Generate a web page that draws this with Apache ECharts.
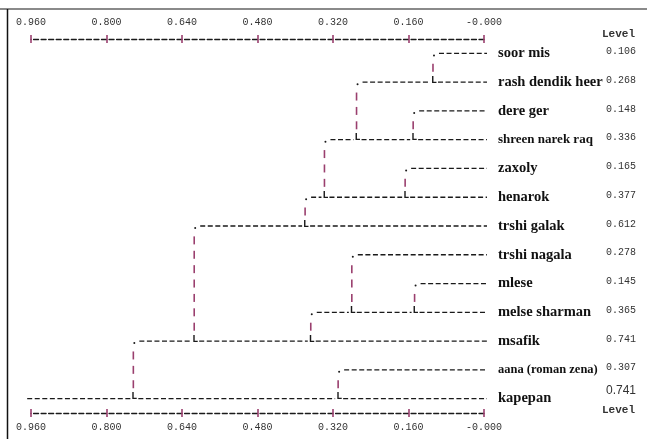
<!DOCTYPE html>
<html>
<head>
<meta charset="utf-8">
<script src="https://cdn.jsdelivr.net/npm/echarts@6.0.0/dist/echarts.min.js"></script>
<style>
  html, body { margin: 0; padding: 0; background: #fff; }
  #chart { width: 647px; height: 439px; }
</style>
</head>
<body>
<div id="chart"></div>
<script>
// rows of the dendrogram, top to bottom
const names = ['soor mis', 'rash dendik heer', 'dere ger', 'shreen narek raq', 'zaxoly', 'henarok',
  'trshi galak', 'trshi nagala', 'mlese', 'melse sharman', 'msafik', 'aana (roman zena)', 'kapepan'];
// "Level" column: row i joins row i+1 at levels[i]
const levels = [0.106, 0.268, 0.148, 0.336, 0.165, 0.377, 0.612, 0.278, 0.145, 0.365, 0.741, 0.307, 0.741];
const ticks = [0.96, 0.8, 0.64, 0.48, 0.32, 0.16, 0];
const rootTail = 0.97;

const INK = '#1a1a1a';
const BAR = '#9a3f6e';
const MONO = '"Liberation Mono", "DejaVu Sans Mono", monospace';
const smallLabels = { 'shreen narek raq': 13, 'aana (roman zena)': 12.5 };

// rebuild the tree from the adjacent join levels
const nodes = [];
function build(a, b) {
  if (a === b) return 0;
  let k = a;
  for (let i = a; i < b; i++) if (levels[i] > levels[k]) k = i;
  const upH = build(a, k);
  const lowH = build(k + 1, b);
  nodes.push([levels[k], k, b, upH, lowH]);
  return levels[k];
}
const rootH = build(0, names.length - 1);

function dash(x1, x2, y) {
  return {
    type: 'line', shape: { x1: x1, y1: y, x2: x2, y2: y },
    style: { stroke: INK, lineWidth: 1.3, lineDash: [5, 2.55] }
  };
}

function renderNode(params, api) {
  const h = api.value(0), up = api.value(1), low = api.value(2);
  const upH = api.value(3), lowH = api.value(4);
  const pUp = api.coord([h, up]);
  const pLow = api.coord([h, low]);
  const x = pUp[0];
  const upEnd = api.coord([upH, up])[0] + (upH ? -4 : 3);
  const lowEnd = api.coord([lowH, low])[0] + (lowH ? -4 : 3);
  const kids = [];
  kids.push({ type: 'circle', shape: { cx: x, cy: pUp[1] + 2, r: 1 }, style: { fill: INK } });
  kids.push(dash(x + 5, upEnd, pUp[1]));
  for (let r = up + 0.5; r < low; r += 0.5) {
    const y = api.coord([h, r])[1];
    kids.push({ type: 'line', shape: { x1: x - 1, y1: y - 4, x2: x - 1, y2: y + 4 },
      style: { stroke: BAR, lineWidth: 1.6 } });
  }
  kids.push({ type: 'text', x: x, y: pLow[1] + 3,
    style: { text: 'L', font: 'bold 10px ' + MONO, fill: INK, align: 'center', verticalAlign: 'bottom' } });
  kids.push(dash(x + 4, lowEnd, pLow[1]));
  return { type: 'group', children: kids };
}

function renderRoot(params, api) {
  const p = api.coord([api.value(0), api.value(1)]);
  const end = api.coord([rootTail, api.value(1)])[0];
  return dash(p[0] - 4, end, p[1]);
}

function renderLabel(params, api) {
  const i = api.value(1);
  const p = api.coord([0, i]);
  const name = names[i];
  const size = smallLabels[name] || 14.5;
  return {
    type: 'text', x: p[0] + 14, y: p[1],
    style: { text: name, font: 'bold ' + size + 'px "Liberation Serif", serif', fill: '#111',
      align: 'left', verticalAlign: 'middle' }
  };
}

function renderLevel(params, api) {
  const i = api.value(1);
  const p = api.coord([0, i]);
  const last = i === names.length - 1;
  return {
    type: 'text', x: api.getWidth() - 11, y: p[1] - (last ? 8 : 2),
    style: { text: levels[i].toFixed(3), font: last ? '12px "Liberation Sans", sans-serif' : '10px ' + MONO,
      fill: '#333', align: 'right', verticalAlign: 'middle' }
  };
}

const fmt = v => (v === 0 ? '-0.000' : v.toFixed(3));
function xAx(pos, inside, labels) {
  return {
    type: 'value', position: pos, min: 0, max: 0.96, interval: 0.16, inverse: true,
    axisLine: { show: labels, onZero: false, lineStyle: { color: INK, width: 1.3, type: [5, 2.55] } },
    axisTick: { show: true, inside: inside, length: 4, lineStyle: { color: BAR, width: 1.6 } },
    axisLabel: { show: labels, formatter: fmt, fontFamily: MONO, fontSize: 10, color: '#333',
      margin: pos === 'top' ? 12 : 9 },
    splitLine: { show: false }
  };
}

const rowData = names.map((n, i) => [0, i]);

const chart = echarts.init(document.getElementById('chart'), null, { renderer: 'canvas' });
chart.setOption({
  animation: false,
  backgroundColor: '#fff',
  grid: { left: 31, right: 163, top: 39, bottom: 26 },
  xAxis: [xAx('top', false, true), xAx('top', true, false), xAx('bottom', false, true), xAx('bottom', true, false)],
  yAxis: { type: 'value', min: -0.5, max: names.length - 0.5, inverse: true, show: false },
  graphic: [
    { type: 'line', shape: { x1: 0, y1: 9, x2: 647, y2: 9 }, style: { stroke: '#8a8a8a', lineWidth: 2 } },
    { type: 'line', shape: { x1: 7.5, y1: 9, x2: 7.5, y2: 439 }, style: { stroke: '#111', lineWidth: 1.5 } },
    { type: 'text', right: 12, top: 29,
      style: { text: 'Level', font: 'bold 11px ' + MONO, fill: '#333' } },
    { type: 'text', right: 12, top: 405,
      style: { text: 'Level', font: 'bold 11px ' + MONO, fill: '#333' } }
  ],
  series: [
    { type: 'custom', name: 'tree', renderItem: renderNode, data: nodes, clip: false },
    { type: 'custom', name: 'root', renderItem: renderRoot, data: [[rootH, names.length - 1]], clip: false },
    { type: 'custom', name: 'labels', renderItem: renderLabel, data: rowData, clip: false },
    { type: 'custom', name: 'levels', renderItem: renderLevel, data: rowData, clip: false }
  ]
});
</script>
</body>
</html>
